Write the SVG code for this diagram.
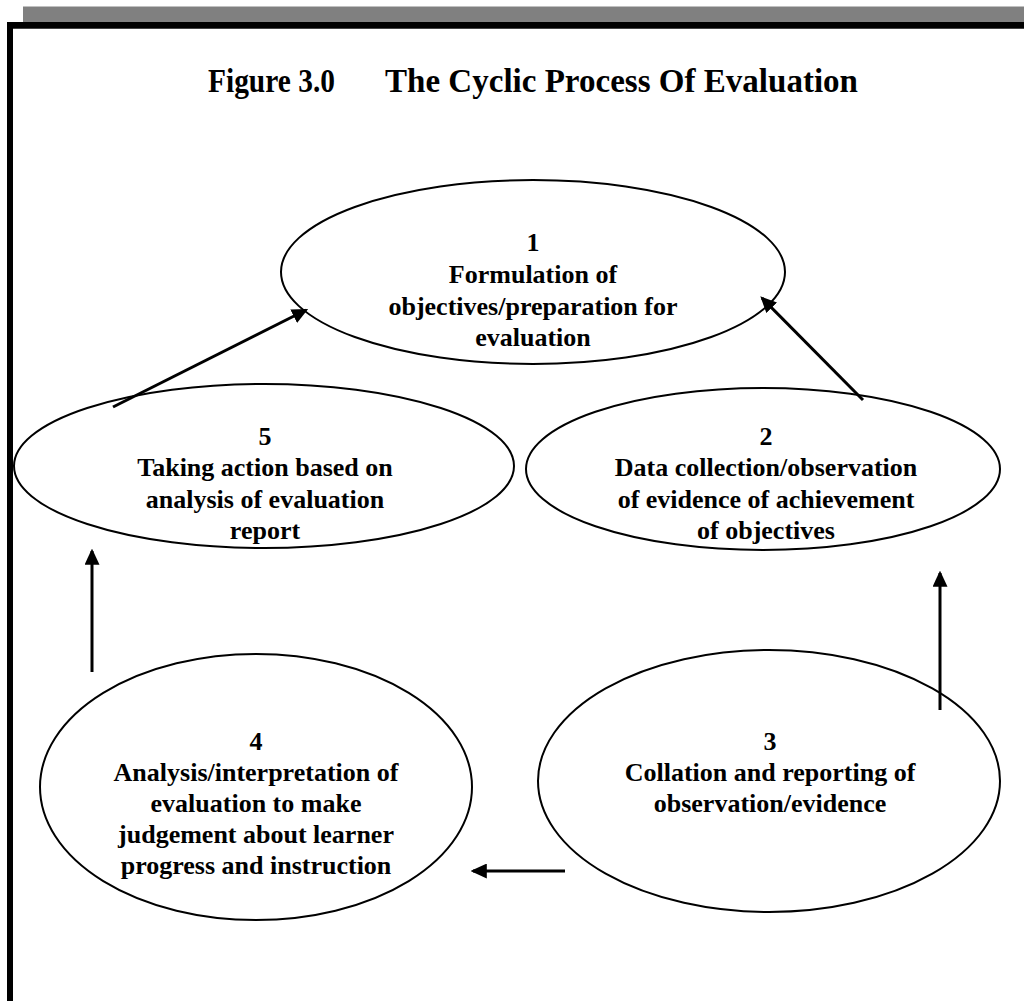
<svg xmlns="http://www.w3.org/2000/svg" width="1024" height="1001" viewBox="0 0 1024 1001">
  <style>
    .node ellipse { fill: #ffffff; stroke: #000000; stroke-width: 2; }
    .node text, .title { font-family: "Liberation Serif", "Times New Roman", serif; font-weight: bold; fill: #000000; text-anchor: middle; }
    .node text { font-size: 26px; }
    .title { font-size: 34px; text-anchor: start; }
    .conn line { stroke: #000000; stroke-width: 3; marker-end: url(#head); }
  </style>
  <defs>
    <marker id="head" markerWidth="5.4" markerHeight="5" refX="4.6" refY="2.5" orient="auto" markerUnits="strokeWidth">
      <path d="M0,0 L5.4,2.5 L0,5 Z" fill="#000000"/>
    </marker>
  </defs>

  <!-- page frame -->
  <rect x="0" y="0" width="1024" height="1001" fill="#ffffff"/>
  <rect x="23" y="6" width="1001" height="16" fill="#808080"/>
  <line x1="23" y1="6.5" x2="1024" y2="6.5" stroke="#c0c0c0" stroke-width="1"/>
  <rect x="7" y="22" width="1017" height="6" fill="#000000"/>
  <rect x="7" y="22" width="6" height="979" fill="#000000"/>
  <line x1="13" y1="28.5" x2="1024" y2="28.5" stroke="#444444" stroke-width="1"/>

  <!-- heading -->
  <text class="title" x="208" y="92" textLength="127" lengthAdjust="spacingAndGlyphs">Figure 3.0</text>
  <text class="title" x="385" y="92" textLength="473" lengthAdjust="spacingAndGlyphs">The Cyclic Process Of Evaluation</text>

  <!-- stage 1 -->
  <g id="node1" class="node">
    <ellipse cx="533" cy="272" rx="252" ry="92"/>
    <text x="533" y="251">1</text>
    <text x="533" y="283">Formulation of</text>
    <text x="533" y="315">objectives/preparation for</text>
    <text x="533" y="346">evaluation</text>
  </g>

  <!-- stage 2 -->
  <g id="node2" class="node">
    <ellipse cx="763" cy="469" rx="237" ry="81"/>
    <text x="766" y="445">2</text>
    <text x="766" y="476">Data collection/observation</text>
    <text x="766" y="508">of evidence of achievement</text>
    <text x="766" y="539">of objectives</text>
  </g>

  <!-- stage 3 -->
  <g id="node3" class="node">
    <ellipse cx="769" cy="781" rx="231" ry="131"/>
    <text x="770" y="750">3</text>
    <text x="770" y="781">Collation and reporting of</text>
    <text x="770" y="812">observation/evidence</text>
  </g>

  <!-- stage 4 -->
  <g id="node4" class="node">
    <ellipse cx="256" cy="787" rx="216" ry="133"/>
    <text x="256" y="750">4</text>
    <text x="256" y="781">Analysis/interpretation of</text>
    <text x="256" y="812">evaluation to make</text>
    <text x="256" y="843">judgement about learner</text>
    <text x="256" y="874">progress and instruction</text>
  </g>

  <!-- stage 5 -->
  <g id="node5" class="node">
    <ellipse cx="264" cy="466" rx="250" ry="82"/>
    <text x="265" y="445">5</text>
    <text x="265" y="476">Taking action based on</text>
    <text x="265" y="508">analysis of evaluation</text>
    <text x="265" y="539">report</text>
  </g>

  <!-- connectors, drawn over the ellipse outlines -->
  <g id="connectors" class="conn">
    <line x1="113" y1="407" x2="306" y2="310"/>
    <line x1="863" y1="400" x2="762" y2="298"/>
    <line x1="940" y1="710" x2="940" y2="573"/>
    <line x1="565" y1="871" x2="473" y2="871"/>
    <line x1="92" y1="672" x2="92" y2="551"/>
  </g>
</svg>
